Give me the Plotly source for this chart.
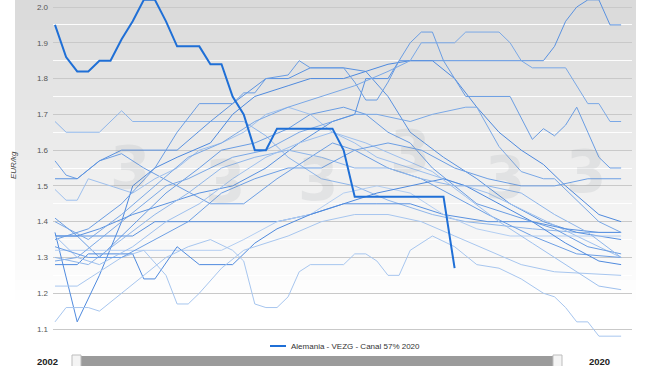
import plotly.graph_objects as go

# ---------------- data (weeks and EUR/kg values) -------------
wk_2020 = list(range(1, 38))
val_2020 = [1.95, 1.86, 1.82, 1.82, 1.85, 1.85, 1.91, 1.96, 2.02, 2.02, 1.96, 1.89, 1.89,
            1.89, 1.84, 1.84, 1.75, 1.70, 1.60, 1.60, 1.66, 1.66, 1.66, 1.66, 1.66, 1.66,
            1.60, 1.47, 1.47, 1.47, 1.47, 1.47, 1.47, 1.47, 1.47, 1.47, 1.27]

wk_a = [1, 2, 5, 7, 8, 18, 20, 22, 25, 28, 31, 35, 38, 44, 48, 52]
val_a = [1.68, 1.65, 1.65, 1.71, 1.68, 1.68, 1.64, 1.58, 1.52, 1.50, 1.46, 1.42, 1.40, 1.38, 1.37, 1.37]
wk_b = [1, 2, 3, 5, 7, 9, 12, 15, 18, 21, 24, 26, 28, 31, 34, 37, 40, 44, 48, 52]
val_b = [1.57, 1.53, 1.52, 1.57, 1.59, 1.55, 1.50, 1.45, 1.45, 1.52, 1.58, 1.62, 1.60, 1.55, 1.52, 1.47, 1.42, 1.36, 1.31, 1.30]
wk_c = [1, 3, 5, 7, 12, 15, 17, 20, 22, 24, 27, 29, 31, 33, 36, 39, 42, 45, 48, 52]
val_c = [1.52, 1.52, 1.57, 1.60, 1.60, 1.68, 1.73, 1.80, 1.80, 1.83, 1.83, 1.82, 1.75, 1.65, 1.58, 1.52, 1.45, 1.40, 1.37, 1.35]
wk_d = [1, 2, 3, 4, 6, 8, 10, 12, 14, 16, 18, 20, 22, 24, 26, 28, 30, 33, 36, 40, 44, 48, 52]
val_d = [1.49, 1.46, 1.46, 1.52, 1.50, 1.48, 1.52, 1.55, 1.60, 1.62, 1.65, 1.70, 1.72, 1.70, 1.65, 1.62, 1.58, 1.55, 1.52, 1.48, 1.42, 1.36, 1.30]
wk_e = [1, 3, 5, 7, 9, 11, 14, 16, 19, 22, 24, 27, 29, 31, 33, 35, 37, 39, 42, 46, 49, 52]
val_e = [1.41, 1.36, 1.30, 1.36, 1.42, 1.48, 1.55, 1.60, 1.62, 1.66, 1.70, 1.72, 1.70, 1.65, 1.62, 1.55, 1.50, 1.45, 1.42, 1.38, 1.33, 1.31]
wk_f = [1, 3, 5, 7, 8, 10, 12, 15, 17, 19, 22, 24, 27, 29, 31, 33, 35, 37, 39, 41, 43, 45, 47, 50, 52]
val_f = [1.37, 1.12, 1.25, 1.40, 1.50, 1.55, 1.58, 1.62, 1.70, 1.75, 1.78, 1.80, 1.80, 1.82, 1.84, 1.85, 1.85, 1.80, 1.72, 1.65, 1.60, 1.56, 1.50, 1.42, 1.40]
wk_g = [1, 8, 10, 12, 18, 21, 24, 27, 30, 33, 36, 40, 44, 47, 50, 52]
val_g = [1.36, 1.36, 1.40, 1.40, 1.40, 1.40, 1.42, 1.45, 1.45, 1.45, 1.42, 1.40, 1.40, 1.38, 1.37, 1.37]
wk_h = [1, 16, 18, 21, 24, 27, 30, 33, 36, 39, 42, 46, 52]
val_h = [1.32, 1.32, 1.35, 1.40, 1.42, 1.48, 1.50, 1.48, 1.42, 1.38, 1.36, 1.36, 1.36]
wk_i = [1, 3, 4, 8, 9, 10, 12, 14, 17, 19, 21, 24, 27, 30, 33, 36, 38, 41, 44, 47, 50, 52]
val_i = [1.28, 1.28, 1.31, 1.31, 1.24, 1.24, 1.33, 1.28, 1.28, 1.34, 1.38, 1.42, 1.45, 1.48, 1.50, 1.52, 1.50, 1.45, 1.40, 1.34, 1.29, 1.28]
wk_j = [1, 3, 5, 7, 9, 11, 12, 13, 14, 16, 18, 20, 22, 25, 28, 31, 34, 37, 40, 43, 46, 52]
val_j = [1.22, 1.22, 1.26, 1.30, 1.32, 1.25, 1.17, 1.17, 1.20, 1.27, 1.32, 1.34, 1.36, 1.40, 1.42, 1.42, 1.40, 1.36, 1.32, 1.28, 1.26, 1.25]
wk_k = [1, 2, 4, 5, 7, 9, 11, 13, 15, 17, 18, 19, 20, 21, 22, 23, 24, 27, 28, 29, 30, 31, 32,
        33, 35, 37, 39, 41, 43, 45, 46, 47, 48, 49, 50, 52]
val_k = [1.12, 1.16, 1.16, 1.15, 1.20, 1.25, 1.30, 1.33, 1.35, 1.32, 1.29, 1.17, 1.16, 1.16, 1.19, 1.26, 1.28, 1.28, 1.31, 1.31, 1.29, 1.25, 1.25,
         1.32, 1.36, 1.33, 1.28, 1.27, 1.24, 1.20, 1.19, 1.16, 1.12, 1.12, 1.08, 1.08]
wk_l = [1, 3, 5, 7, 9, 11, 13, 15, 17, 20, 23, 26, 28, 30, 33, 35, 38, 39, 41, 43, 45, 46, 48, 50, 52]
val_l = [1.29, 1.30, 1.35, 1.40, 1.45, 1.50, 1.52, 1.55, 1.58, 1.60, 1.65, 1.68, 1.70, 1.70, 1.68, 1.70, 1.72, 1.72, 1.61, 1.54, 1.52, 1.52, 1.46, 1.40, 1.37]
wk_m = [1, 3, 5, 8, 11, 14, 17, 20, 23, 26, 28, 29, 31, 32, 45, 46, 47, 48, 49, 50, 51, 52]
val_m = [1.36, 1.36, 1.38, 1.42, 1.45, 1.48, 1.50, 1.55, 1.62, 1.68, 1.70, 1.80, 1.80, 1.85, 1.85, 1.89, 1.96, 2.00, 2.02, 2.02, 1.95, 1.95]
wk_n = [1, 4, 7, 10, 12, 14, 17, 18, 19, 20, 22, 23, 24, 27, 28, 29, 30, 31, 32, 33, 34, 35, 36,
        38, 42, 44, 45, 46, 47, 48, 49, 50, 51, 52]
val_n = [1.35, 1.38, 1.45, 1.55, 1.65, 1.73, 1.73, 1.76, 1.76, 1.80, 1.81, 1.85, 1.83, 1.83, 1.79, 1.74, 1.74, 1.79, 1.85, 1.90, 1.93, 1.93, 1.85,
         1.75, 1.75, 1.63, 1.66, 1.64, 1.67, 1.72, 1.65, 1.58, 1.55, 1.55]
wk_o = [1, 4, 7, 10, 13, 16, 19, 22, 25, 28, 31, 33, 34, 37, 38, 41, 42, 43, 44, 47, 49, 50, 51, 52]
val_o = [1.40, 1.35, 1.42, 1.50, 1.58, 1.62, 1.68, 1.72, 1.75, 1.78, 1.82, 1.85, 1.90, 1.90, 1.93, 1.93, 1.90, 1.85, 1.83, 1.83, 1.73, 1.73, 1.68, 1.68]
wk_p = [1, 4, 7, 10, 13, 16, 19, 22, 25, 28, 31, 34, 37, 40, 43, 46, 49, 52]
val_p = [1.30, 1.28, 1.35, 1.42, 1.48, 1.55, 1.58, 1.60, 1.58, 1.55, 1.55, 1.52, 1.50, 1.50, 1.48, 1.42, 1.37, 1.30]
wk_q = [1, 3, 5, 8, 11, 14, 17, 20, 23, 26, 29, 32, 35, 38, 41, 44, 47, 50, 52]
val_q = [1.36, 1.30, 1.28, 1.33, 1.40, 1.45, 1.52, 1.58, 1.62, 1.65, 1.62, 1.58, 1.54, 1.47, 1.40, 1.34, 1.28, 1.22, 1.21]
wk_r = [1, 4, 7, 10, 13, 16, 19, 22, 25, 28, 31, 34, 37, 40, 43, 46, 49, 52]
val_r = [1.33, 1.30, 1.30, 1.35, 1.40, 1.48, 1.52, 1.55, 1.55, 1.60, 1.62, 1.60, 1.55, 1.52, 1.50, 1.50, 1.52, 1.52]

light_series = [
    (wk_a, val_a, "#8fb6ea"), (wk_b, val_b, "#6d9fe4"), (wk_c, val_c, "#5a92e0"),
    (wk_d, val_d, "#9ec0ee"), (wk_e, val_e, "#6a9de3"), (wk_f, val_f, "#4f8ade"),
    (wk_g, val_g, "#5a92e0"), (wk_h, val_h, "#b3cef2"), (wk_i, val_i, "#4f8ade"),
    (wk_j, val_j, "#a7c6ef"), (wk_k, val_k, "#a7c6ef"), (wk_l, val_l, "#7aa8e6"),
    (wk_m, val_m, "#5a92e0"), (wk_n, val_n, "#6a9de3"), (wk_o, val_o, "#7aa8e6"),
    (wk_p, val_p, "#8fb6ea"), (wk_q, val_q, "#9ec0ee"), (wk_r, val_r, "#6d9fe4"),
]

y_ticks = [1.1, 1.2, 1.3, 1.4, 1.5, 1.6, 1.7, 1.8, 1.9, 2.0]
y_title = "EUR/kg"
legend_name = "Alemania - VEZG - Canal 57% 2020"
slider_start, slider_end = "2002", "2020"

# ---------------- figure ----------------
W, H = 650, 366
ML, MR, MT, MB = 53, 18, 0, 26
PW, PH = W - ML - MR, H - MT - MB
FONT = "Liberation Sans, Arial, sans-serif"

fig = go.Figure()
for wk, vals, col in light_series:
    fig.add_trace(go.Scatter(x=wk, y=vals, mode="lines", showlegend=False,
                             line=dict(color=col, width=1), hoverinfo="skip"))
fig.add_trace(go.Scatter(x=wk_2020, y=val_2020, mode="lines", name=legend_name,
                         showlegend=False, line=dict(color="#1f6fd6", width=2)))

def px_x(px):
    return (px - ML) / PW

def px_y(py):
    return (MT + PH - py) / PH

shapes = []
# vertical gradient background (grey at top fading to white)
nb = 34
top_c, bot_c = (218, 218, 218), (255, 255, 255)
for i in range(nb):
    t = i / (nb - 1)
    c = tuple(int(round(top_c[k] + (bot_c[k] - top_c[k]) * min(1, t * 1.1))) for k in range(3))
    y0 = 1 - i / nb
    y1 = 1 - (i + 1) / nb
    shapes.append(dict(type="rect", xref="paper", yref="paper", x0=px_x(15), x1=px_x(636),
                       y0=y1 - 0.002, y1=y0, fillcolor="rgb(%d,%d,%d)" % c,
                       line=dict(width=0), layer="below"))

# navigator bar
shapes.append(dict(type="rect", xref="paper", yref="paper", x0=px_x(80), x1=px_x(556),
                   y0=px_y(368), y1=px_y(356), fillcolor="#9b9b9b", line=dict(width=0)))
for hx in (72, 553):
    shapes.append(dict(type="rect", xref="paper", yref="paper", x0=px_x(hx), x1=px_x(hx + 9),
                       y0=px_y(368), y1=px_y(355), fillcolor="#f4f4f4",
                       line=dict(color="#bdbdbd", width=1)))
# legend line sample
shapes.append(dict(type="line", xref="paper", yref="paper", x0=px_x(270), x1=px_x(286),
                   y0=px_y(346), y1=px_y(346), line=dict(color="#1f6fd6", width=2)))

annotations = [
    dict(text=legend_name, xref="paper", yref="paper", x=px_x(289), y=px_y(346),
         xanchor="left", yanchor="middle", showarrow=False,
         font=dict(size=8, color="#333333", family=FONT)),
    dict(text="<b>%s</b>" % slider_start, xref="paper", yref="paper", x=px_x(35), y=px_y(361),
         xanchor="left", yanchor="middle", showarrow=False,
         font=dict(size=9.5, color="#222222", family=FONT)),
    dict(text="<b>%s</b>" % slider_end, xref="paper", yref="paper", x=px_x(587), y=px_y(361),
         xanchor="left", yanchor="middle", showarrow=False,
         font=dict(size=9.5, color="#222222", family=FONT)),
    dict(text="<i>%s</i>" % y_title, xref="paper", yref="paper", x=px_x(13), y=px_y(165),
         xanchor="center", yanchor="middle", showarrow=False, textangle=-90,
         font=dict(size=8, color="#444444", family=FONT)),
]
# faint watermark logos
for wx, wy in [(130, 168), (225, 182), (318, 180), (410, 152), (505, 178), (586, 172)]:
    annotations.append(dict(text="<b>3</b>", xref="paper", yref="paper", x=px_x(wx), y=px_y(wy),
                            xanchor="center", yanchor="middle", showarrow=False,
                            font=dict(size=58, color="rgba(120,130,140,0.12)",
                                      family="DejaVu Sans")))

fig.update_layout(
    width=W, height=H, margin=dict(l=ML, r=MR, t=MT, b=MB, autoexpand=False),
    paper_bgcolor="white", plot_bgcolor="rgba(0,0,0,0)",
    shapes=shapes, annotations=annotations, showlegend=False,
    xaxis=dict(range=[0.82, 52.98], showgrid=False, showticklabels=False, zeroline=False,
               ticks="", showline=False),
    yaxis=dict(range=[1.0693, 2.0196], tickvals=y_ticks,
               ticktext=["%.1f" % v for v in y_ticks],
               showgrid=True, gridcolor="#c9c9c9", gridwidth=1, zeroline=False,
               tickfont=dict(size=8, color="#555555", family=FONT),
               ticks="", ticklabelstandoff=4,
               minor=dict(dtick=0.05, tick0=1.05, showgrid=True, gridcolor="rgba(255,255,255,0.9)")),
    font=dict(family=FONT),
)

fig.write_html("out.html", config={"displayModeBar": False},
               post_script="document.body.style.margin='0';document.body.style.overflow='hidden';")
